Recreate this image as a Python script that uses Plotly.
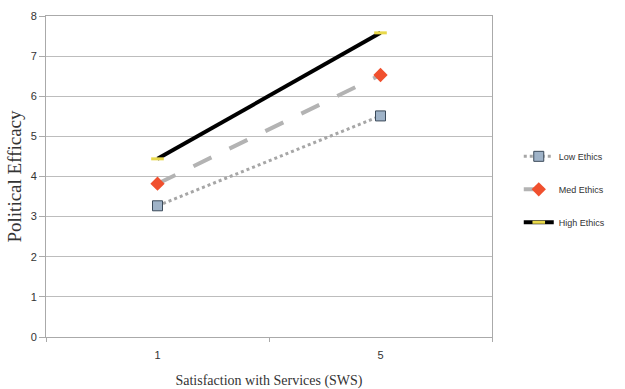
import plotly.graph_objects as go

sws = ['1', '5']
low_ethics = [3.27, 5.51]
med_ethics = [3.82, 6.53]
high_ethics = [4.44, 7.58]

fig = go.Figure()

fig.add_trace(go.Scatter(x=sws, y=low_ethics, mode='lines+markers', name='Low Ethics',
                         legendgroup='a',
                         line=dict(color='#a6a6a6', width=3, dash='dot'),
                         marker=dict(symbol='square', size=10, color='#9fb3c8',
                                     line=dict(color='#3b4a5a', width=1))))
fig.add_trace(go.Scatter(x=sws, y=med_ethics, mode='lines+markers', name='Med Ethics',
                         legendgroup='b',
                         line=dict(color='#b3b3b3', width=4, dash='longdash'),
                         marker=dict(symbol='diamond', size=11, color='#f0502e')))
fig.add_trace(go.Scatter(x=sws, y=high_ethics, mode='lines+markers', name='High Ethics',
                         legendgroup='c',
                         line=dict(color='#000000', width=4),
                         marker=dict(symbol='line-ew', size=9,
                                     line=dict(color='#e8d84a', width=3))))

fig.update_layout(
    width=625, height=389,
    margin=dict(l=46, r=133, t=16, b=52),
    paper_bgcolor='white', plot_bgcolor='white',
    font=dict(family='Liberation Sans, Arial', size=11, color='#333333'),
    showlegend=True,
    legend=dict(x=1.06, y=0.46, xanchor='left', yanchor='middle',
                font=dict(size=9, color='#333333'), tracegroupgap=14,
                itemwidth=30, bgcolor='rgba(0,0,0,0)'),
    xaxis=dict(type='category', range=[-0.5, 1.5], tickson='boundaries', ticks='outside',
               ticklen=4, tickcolor='#aaaaaa', showline=True, linecolor='#aaaaaa',
               mirror=True, showgrid=False, automargin=False, ticklabelstandoff=8,
               title=dict(text='Satisfaction with Services (SWS)', standoff=14,
                          font=dict(family='Liberation Serif, Times New Roman', size=14,
                                    color='#333333'))),
    yaxis=dict(range=[0, 8], dtick=1, ticks='outside', ticklen=6, tickcolor='#aaaaaa',
               showline=True, linecolor='#aaaaaa', mirror=True, automargin=False,
               gridcolor='#bdbdbd', gridwidth=1, zeroline=False,
               title=dict(text='Political Efficacy', standoff=4,
                          font=dict(family='Liberation Serif, Times New Roman', size=19,
                                    color='#333333'))),
)

fig.write_html("out.html", config={'displayModeBar': False},
               post_script="document.body.style.margin='0';")
